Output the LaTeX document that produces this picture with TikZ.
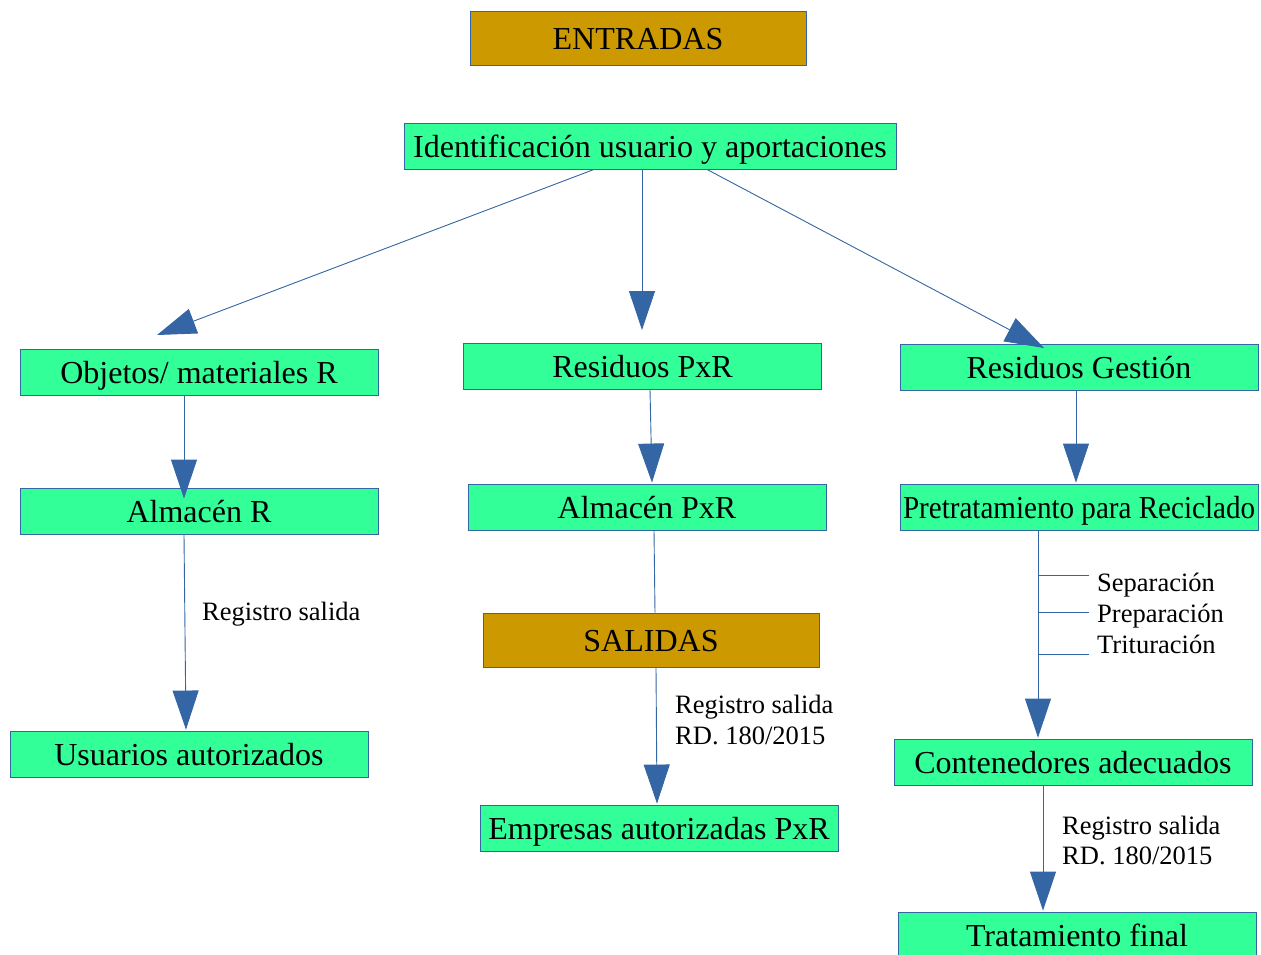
\documentclass[tikz,border=0pt]{standalone}
\usepackage{fontspec}
\usepackage{graphicx}
\setmainfont{Liberation Serif}
\usetikzlibrary{arrows.meta}
\definecolor{boxgreen}{HTML}{33FF99}
\definecolor{boxgold}{HTML}{CC9900}
\definecolor{lineblue}{HTML}{3465A4}
\begin{document}
\begin{tikzpicture}[x=1pt,y=-1pt,
  greenbox/.style={draw=lineblue, fill=boxgreen, line width=0.9pt, minimum width=358pt, minimum height=46pt, inner sep=0pt, text height=24pt, text depth=2pt, font=\fontsize{32}{36}\selectfont},
  goldbox/.style={greenbox, fill=boxgold, minimum width=336pt, minimum height=54pt},
  conn/.style={draw=lineblue, line width=0.9pt},
  arr/.style={conn, -{Triangle[length=39pt,width=26pt,fill=lineblue]}},
  lbl/.style={font=\fontsize{26.5}{31}\selectfont, inner sep=0pt, anchor=base west}]
\useasboundingbox (0,0) rectangle (1261,954);
\clip (0,0) rectangle (1261,954);

\node[goldbox] (entradas) at (638,38) {ENTRADAS};
\node[greenbox, minimum width=492pt] (ident) at (650,146) {Identificación usuario y aportaciones};
\node[greenbox] (objetos) at (199,372) {Objetos/ materiales R};
\node[greenbox] (respxr) at (642.5,366) {Residuos PxR};
\node[greenbox] (resgest) at (1079,367) {Residuos Gestión};
\node[greenbox] (almr) at (199,511) {Almacén R};
\node[greenbox] (almpxr) at (647,507) {Almacén PxR};
\node[greenbox] (pretrat) at (1079,507) {\resizebox{352pt}{\height}{Pretratamiento para Reciclado}};
\node[goldbox] (salidas) at (651,640) {SALIDAS};
\node[greenbox] (usuarios) at (189,754) {Usuarios autorizados};
\node[greenbox] (empresas) at (659,828) {Empresas autorizadas PxR};
\node[greenbox] (contened) at (1073,762) {Contenedores adecuados};
\node[greenbox] (tratfin) at (1077,935) {Tratamiento final};

% arrows from identification
\coordinate (t1) at (157,335);
\coordinate (t2) at (642,330);
\coordinate (t3) at (1044,348);
\draw[arr] ([xshift=-56pt]ident.south) -- (t1);
\draw[arr] ([xshift=-8pt]ident.south) -- (t2);
\draw[arr] ([xshift=57pt]ident.south) -- (t3);

% vertical connectors
\draw[arr] ([xshift=-15pt]objetos.south) -- ([xshift=-15pt,yshift=-11pt]almr.north);
\draw[arr] ([xshift=7.5pt]respxr.south) -- ([xshift=5pt,yshift=1pt]almpxr.north);
\draw[arr] ([xshift=-3pt]resgest.south) -- ([xshift=-3pt,yshift=1pt]pretrat.north);
\draw[arr] ([xshift=-15pt]almr.south) -- ([xshift=-3pt,yshift=1pt]usuarios.north);
\draw[conn] ([xshift=7pt]almpxr.south) -- ([xshift=4pt]salidas.north);
\draw[arr] ([xshift=5pt]salidas.south) -- ([xshift=-2pt,yshift=1pt]empresas.north);
\draw[arr] ([xshift=-41pt]pretrat.south) -- ([xshift=-35pt,yshift=1pt]contened.north);
\draw[arr] ([xshift=-30pt]contened.south) -- ([xshift=-34pt,yshift=1pt]tratfin.north);

% branches
\coordinate (b1s) at (1038,575); \coordinate (b1e) at (1089,575);
\coordinate (b2s) at (1038,612); \coordinate (b2e) at (1089,612);
\coordinate (b3s) at (1038,654); \coordinate (b3e) at (1089,654);
\draw[conn] (b1s) -- (b1e);
\draw[conn] (b2s) -- (b2e);
\draw[conn] (b3s) -- (b3e);

% labels
\node[lbl] (sep) at (1097,591) {Separación};
\node[lbl] (prep) at (1097,622) {Preparación};
\node[lbl] (trit) at (1097,653) {Trituración};
\node[lbl] (reg1) at (202,620) {Registro salida};
\node[lbl] (reg2a) at (675,713) {Registro salida};
\node[lbl] (reg2b) at (675,744) {RD. 180/2015};
\node[lbl] (reg3a) at (1062,834) {Registro salida};
\node[lbl] (reg3b) at (1062,864) {RD. 180/2015};
\end{tikzpicture}
\end{document}
